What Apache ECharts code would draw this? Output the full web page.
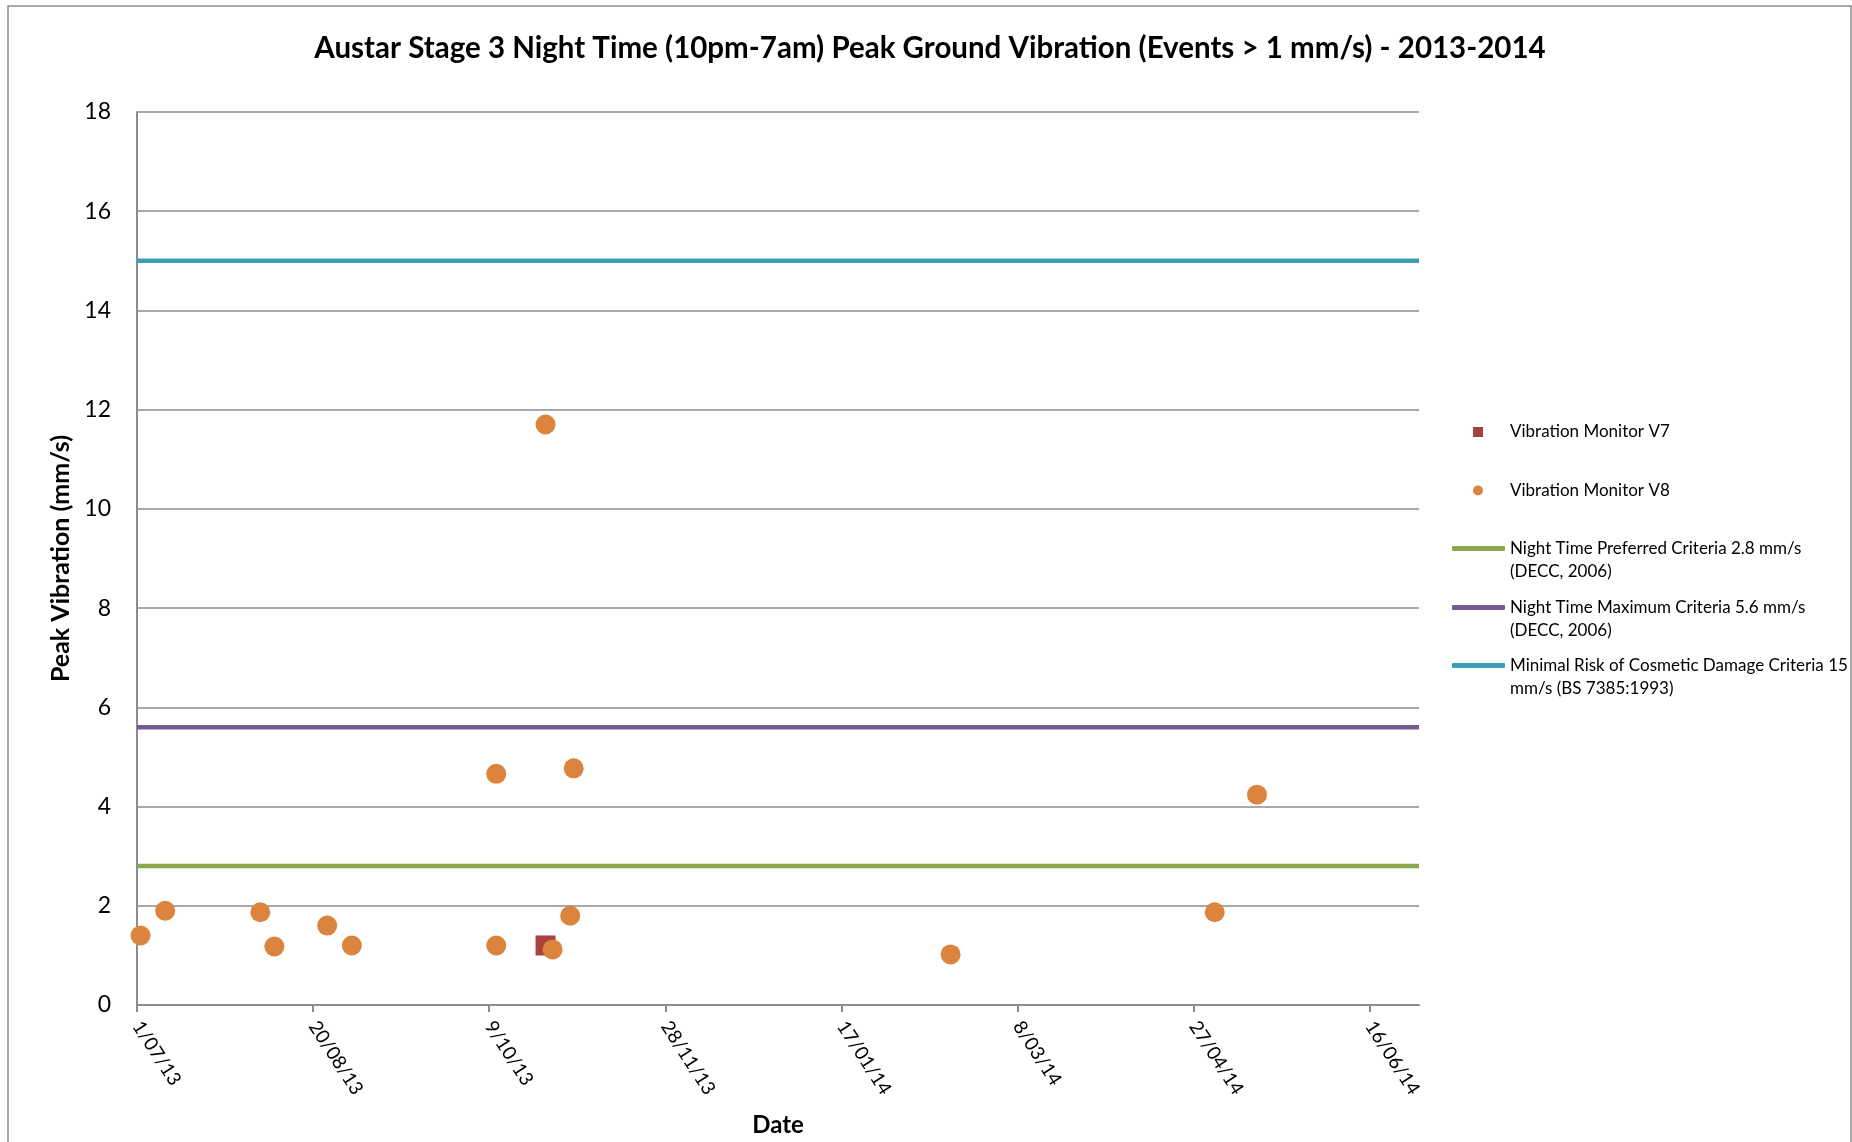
<!DOCTYPE html>
<html>
<head>
<meta charset="utf-8">
<title>Austar Stage 3 Night Time Peak Ground Vibration</title>
<script src="https://cdn.jsdelivr.net/npm/echarts@6/dist/echarts.min.js"></script>
<style>
  html, body { margin: 0; padding: 0; background: #fff; }
  #chart { width: 1852px; height: 1142px; }
</style>
</head>
<body>
<div id="chart"></div>
<script>
// Axis range (dates) and tick labels
const startDate = '2013-07-01';
const endDate = '2014-06-30';
const xTickLabels = ['1/07/13', '20/08/13', '9/10/13', '28/11/13', '17/01/14', '8/03/14', '27/04/14', '16/06/14'];

// Monitor V7 events
const v7Dates = ['2013-10-25'];
const v7Values = [1.2];

// Monitor V8 events
const v8Dates = [
  '2013-07-02', '2013-07-09', '2013-08-05', '2013-08-09', '2013-08-24',
  '2013-08-31', '2013-10-11', '2013-10-11', '2013-10-25', '2013-10-27',
  '2013-11-01', '2013-11-02', '2014-02-17', '2014-05-03', '2014-05-15'
];
const v8Values = [1.4, 1.9, 1.87, 1.18, 1.6, 1.2, 4.66, 1.2, 11.7, 1.12, 1.8, 4.77, 1.02, 1.87, 4.24];

// Criteria lines
const criteriaNames = [
  'Night Time Preferred Criteria 2.8 mm/s\n(DECC, 2006)',
  'Night Time Maximum Criteria 5.6 mm/s\n(DECC, 2006)',
  'Minimal Risk of Cosmetic Damage Criteria 15\nmm/s (BS 7385:1993)'
];
const criteriaValues = [2.8, 5.6, 15];

const DAY = 86400000;
const dayOffset = iso => (Date.parse(iso) - Date.parse(startDate)) / DAY;
const labelToIso = s => {
  const [d, m, y] = s.split('/');
  return '20' + y + '-' + m.padStart(2, '0') + '-' + d.padStart(2, '0');
};

const xMax = dayOffset(endDate);
const tickDays = xTickLabels.map(l => dayOffset(labelToIso(l)));

const FONT = 'Lato';
const chart = echarts.init(document.getElementById('chart'));

const lineColors = ['#8BA84F', '#725A92', '#3E9DB5'];

const criteriaSeries = criteriaNames.map((name, i) => ({
  name: name,
  type: 'line',
  symbol: 'none',
  clip: false,
  lineStyle: { width: 4.5, color: lineColors[i] },
  itemStyle: { color: lineColors[i] },
  data: [[0, criteriaValues[i]], [xMax, criteriaValues[i]]],
  z: 3
}));

// One legend per entry so the spacing can follow the original
const legendText = { fontFamily: FONT, fontSize: 17, lineHeight: 23, color: '#000' };
const markerLegend = {
  orient: 'vertical',
  left: 1473,
  padding: 0,
  itemWidth: 10,
  itemHeight: 10,
  selectedMode: false,
  textStyle: Object.assign({ padding: [0, 0, 0, 22] }, legendText)
};
const lineLegend = {
  orient: 'vertical',
  left: 1452,
  padding: 0,
  itemWidth: 53,
  itemHeight: 5,
  selectedMode: false,
  textStyle: legendText
};

const option = {
  backgroundColor: '#fff',
  animation: false,
  title: {
    text: 'Austar Stage 3 Night Time (10pm-7am) Peak Ground Vibration (Events > 1 mm/s) - 2013-2014',
    left: 925,
    textAlign: 'center',
    top: 28,
    textStyle: { fontFamily: FONT, fontSize: 29.5, fontWeight: 'bold', color: '#000' }
  },
  graphic: [{
    type: 'rect',
    shape: { x: 8, y: 6, width: 1843, height: 1200 },
    style: { fill: 'none', stroke: '#8c8c8c', lineWidth: 1.5 },
    silent: true
  }],
  legend: [
    Object.assign({}, markerLegend, {
      top: 420.5,
      data: [{ name: 'Vibration Monitor V7', icon: 'rect' }]
    }),
    Object.assign({}, markerLegend, {
      top: 479,
      data: [{ name: 'Vibration Monitor V8', icon: 'circle' }]
    }),
    ...criteriaNames.map((n, i) => Object.assign({}, lineLegend, {
      top: [514, 573, 631][i],
      formatter: name => '\n' + name,
      data: [{ name: n, icon: 'roundRect' }]
    }))
  ],
  grid: {
    left: 137,
    right: 433,
    top: 112,
    bottom: 137,
    outerBoundsMode: 'none'
  },
  xAxis: {
    type: 'value',
    min: 0,
    max: xMax,
    name: 'Date',
    nameLocation: 'middle',
    nameGap: 108,
    nameTextStyle: { fontFamily: FONT, fontSize: 24, fontWeight: 'bold', color: '#000' },
    axisLine: { show: true, lineStyle: { color: '#8c8c8c', width: 2 } },
    axisTick: { show: true, length: 7, customValues: tickDays, lineStyle: { color: '#8c8c8c', width: 2 } },
    axisLabel: {
      customValues: tickDays,
      rotate: -57,
      margin: 18,
      fontFamily: FONT,
      fontSize: 19,
      color: '#000',
      formatter: v => xTickLabels[tickDays.indexOf(v)] || ''
    },
    splitLine: { show: false }
  },
  yAxis: {
    type: 'value',
    min: 0,
    max: 18,
    interval: 2,
    name: 'Peak Vibration (mm/s)',
    nameLocation: 'middle',
    nameGap: 61,
    nameTextStyle: { fontFamily: FONT, fontSize: 25, fontWeight: 'bold', color: '#000' },
    axisLine: { show: true, lineStyle: { color: '#8c8c8c', width: 2 } },
    axisTick: { show: false },
    axisLabel: { margin: 26, fontFamily: FONT, fontSize: 23, color: '#000' },
    splitLine: { show: true, lineStyle: { color: '#8c8c8c', width: 1.5 } }
  },
  series: [
    {
      name: 'Vibration Monitor V7',
      type: 'scatter',
      symbol: 'rect',
      symbolSize: 20,
      itemStyle: { color: '#A8423F', opacity: 1 },
      data: v7Dates.map((d, i) => [dayOffset(d), v7Values[i]]),
      z: 4
    },
    {
      name: 'Vibration Monitor V8',
      type: 'scatter',
      symbol: 'circle',
      symbolSize: 20,
      itemStyle: { color: '#DC843D', opacity: 1 },
      data: v8Dates.map((d, i) => [dayOffset(d), v8Values[i]]),
      z: 5
    },
    ...criteriaSeries
  ]
};

chart.setOption(option);
</script>
</body>
</html>
